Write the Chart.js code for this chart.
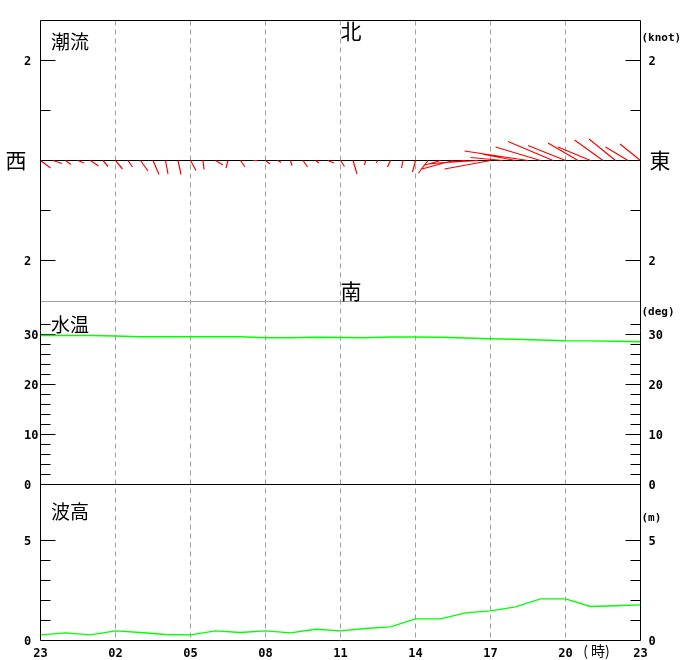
<!DOCTYPE html>
<html lang="ja">
<head>
<meta charset="utf-8">
<title>潮流・水温・波高</title>
<script src="https://cdn.jsdelivr.net/npm/chart.js@4.4.1/dist/chart.umd.min.js"></script>
<style>
  html, body { margin: 0; padding: 0; background: #fff; }
  #wrap { position: relative; width: 680px; height: 660px; }
</style>
</head>
<body>
<div id="wrap"><canvas id="sea-chart" width="680" height="660"></canvas></div>
<script>
// Hours counted from 23:00, tick every 3 hours
const hourTicks = [0, 3, 6, 9, 12, 15, 18, 21, 24];
const hourLabels = ['23', '02', '05', '08', '11', '14', '17', '20', '23'];

// Tidal current every 30 min: east (u) and north (v) components, knots
const currentU = [
    0.20, 0.18, 0.11, 0.12, 0.16, 0.10, 0.14, 0.09, 0.15, 0.12,
    0.05, 0.06, 0.11, 0.02, 0.15, -0.04, 0.09, 0.09, 0.09, 0.06,
    0.03, 0.09, 0.07, 0.12, 0.08, 0.08, -0.02, -0.04, -0.06, -0.03,
    -0.06, -0.19, -0.34, -0.62, -0.74, -0.65, -0.92, -0.65, -0.68, -1.27,
    -0.90, -0.90, -0.75, -0.60, -0.65, -0.57, -0.53, -0.45, -0.41
];
const currentV = [
    -0.15, -0.06, -0.08, -0.05, -0.11, -0.12, -0.17, -0.13, -0.21, -0.28,
    -0.27, -0.28, -0.20, -0.18, -0.09, -0.15, -0.13, 0.00, -0.07, -0.04,
    -0.10, -0.13, -0.05, -0.05, -0.12, -0.27, -0.09, -0.05, -0.13, -0.15,
    -0.23, -0.25, -0.10, -0.17, -0.07, -0.04, -0.17, 0.06, 0.13, 0.19,
    0.27, 0.38, 0.30, 0.35, 0.27, 0.41, 0.43, 0.27, 0.33
];

// Hourly water temperature (deg) and wave height (m)
const hourlyHours = [0, 1, 2, 3, 4, 5, 6, 7, 8, 9, 10, 11, 12, 13, 14, 15, 16, 17, 18, 19, 20, 21, 22, 23, 24];
const waterTemp = [
    29.8, 29.8, 29.8, 29.7, 29.55, 29.55, 29.55, 29.55, 29.55, 29.35,
    29.35, 29.45, 29.4, 29.35, 29.5, 29.5, 29.45, 29.3, 29.15, 29.05,
    28.9, 28.75, 28.72, 28.65, 28.55
];
const waveHeight = [
    0.28, 0.38, 0.28, 0.48, 0.40, 0.30, 0.28, 0.48, 0.40, 0.48,
    0.38, 0.56, 0.48, 0.60, 0.68, 1.08, 1.08, 1.38, 1.48, 1.68,
    2.08, 2.08, 1.70, 1.74, 1.78
];

// Axis ticks per panel
const curMajor = [2, -2];
const curMinor = [1, -1];
const curTickLabels = ['2', '2'];
const tempMajor = [0, 10, 20, 30];
const tempMinor = [2, 4, 6, 8, 12, 14, 16, 18, 22, 24, 26, 28, 32];
const tempTickLabels = ['0', '10', '20', '30'];
const waveMajor = [0, 5];
const waveMinor = [1, 2, 3, 4];
const waveTickLabels = ['0', '5'];

// Panels share one chart area, each keeps its own band (px from top of area)
const AREA_H = 620;
const AREA_W = 600;
const panels = {
    yCur:  { lo: -2.82, hi: 2.8, top: 0, bottom: 281 },
    yTemp: { lo: 0, hi: 36.6, top: 281, bottom: 464 },
    yWave: { lo: 0, hi: 7.8, top: 464, bottom: 620 }
};

function bandRange(p) {
    const ppu = (p.bottom - p.top) / (p.hi - p.lo);
    return { min: p.lo - (AREA_H - p.bottom) / ppu, max: p.hi + p.top / ppu };
}

// hours of x axis per knot, so sticks keep their true direction
const pxPerKnot = (panels.yCur.bottom - panels.yCur.top) / (panels.yCur.hi - panels.yCur.lo);
const KNOT_HOURS = pxPerKnot / (AREA_W / 24);

const stickData = [];
currentU.forEach((u, i) => {
    const t = i * 0.5;
    stickData.push({ x: t, y: 0 }, { x: t + u * KNOT_HOURS, y: currentV[i] }, { x: t, y: null });
});

const crisp = v => Math.floor(v) + 0.5;

const framePlugin = {
    id: 'frame',
    beforeDatasetsDraw(chart) {
        const { ctx, chartArea: a, scales } = chart;
        const x = scales.x;
        const yc = scales.yCur, yt = scales.yTemp, yw = scales.yWave;

        const line = (x1, y1, x2, y2) => {
            ctx.beginPath();
            ctx.moveTo(x1, y1);
            ctx.lineTo(x2, y2);
            ctx.stroke();
        };

        ctx.save();
        ctx.lineWidth = 1;

        // dashed hour lines
        ctx.strokeStyle = '#a0a0a0';
        ctx.setLineDash([5, 4]);
        hourTicks.slice(1, -1).forEach(h => {
            const px = crisp(x.getPixelForValue(h));
            line(px, a.top, px, a.bottom);
        });
        ctx.setLineDash([]);

        // divider under current panel
        const divY = crisp(yc.getPixelForValue(panels.yCur.lo));
        line(a.left, divY, a.right, divY);

        ctx.strokeStyle = '#000';
        const L = crisp(a.left), R = crisp(a.right);
        line(L, a.top, L, a.bottom);
        line(R, a.top, R, a.bottom);
        line(a.left, crisp(a.top), a.right, crisp(a.top));
        line(a.left, crisp(yc.getPixelForValue(0)), a.right, crisp(yc.getPixelForValue(0)));
        line(a.left, crisp(yt.getPixelForValue(0)), a.right, crisp(yt.getPixelForValue(0)));
        line(a.left, crisp(yw.getPixelForValue(0)), a.right, crisp(yw.getPixelForValue(0)));

        const ticks = (scale, values, len) => {
            values.forEach(v => {
                const py = crisp(scale.getPixelForValue(v));
                line(L, py, L + len, py);
                line(R - len, py, R, py);
            });
        };
        ticks(yc, curMajor, 15);
        ticks(yc, curMinor, 10);
        ticks(yt, tempMajor.filter(v => v > 0), 15);
        ticks(yt, tempMinor, 10);
        ticks(yw, waveMajor.filter(v => v > 0), 15);
        ticks(yw, waveMinor, 10);
        ctx.restore();
    },
    afterDatasetsDraw(chart) {
        const { ctx, chartArea: a, scales } = chart;
        const x = scales.x;
        ctx.save();
        ctx.fillStyle = '#000';

        // value labels on both sides
        ctx.font = 'bold 12px "DejaVu Sans Mono"';
        ctx.textBaseline = 'alphabetic';
        ctx.textAlign = 'left';
        const labels = (scale, values, texts) => {
            values.forEach((v, i) => {
                const py = scale.getPixelForValue(v) + 4.5;
                ctx.fillText(texts[i], 24, py);
                ctx.fillText(texts[i], a.right + 8, py);
            });
        };
        labels(scales.yCur, curMajor, curTickLabels);
        labels(scales.yTemp, tempMajor, tempTickLabels);
        labels(scales.yWave, waveMajor, waveTickLabels);

        // hour labels
        ctx.textAlign = 'center';
        hourTicks.forEach((h, i) => {
            ctx.fillText(hourLabels[i], x.getPixelForValue(h), 657);
        });

        // units
        ctx.font = 'bold 11px "DejaVu Sans Mono"';
        ctx.textAlign = 'left';
        ctx.fillText('(knot)', a.right + 1, 41);
        ctx.fillText('(deg)', a.right + 1, 315);
        ctx.fillText('(m)', a.right + 1, 521);

        // CJK texts
        ctx.textBaseline = 'middle';
        ctx.font = '14px "Noto Sans CJK JP"';
        ctx.textAlign = 'center';
        ctx.fillText('( 時)', x.getPixelForValue(21) + 31, 651);

        ctx.font = '21px "Noto Sans CJK JP"';
        ctx.fillText('北', 351, 31);
        ctx.fillText('南', 351, 291);
        ctx.fillText('西', 16, 160);
        ctx.fillText('東', 660, 160);

        ctx.font = '19px "Noto Sans CJK JP"';
        ctx.textAlign = 'left';
        ctx.fillText('潮流', 51, 42);
        ctx.fillText('水温', 51, 325);
        ctx.fillText('波高', 51, 512);
        ctx.restore();
    }
};

const ctx = document.getElementById('sea-chart').getContext('2d');

new Chart(ctx, {
    type: 'line',
    data: {
        datasets: [
            {
                label: '潮流',
                data: stickData,
                yAxisID: 'yCur',
                borderColor: '#ff0000',
                borderWidth: 1.2,
                pointRadius: 0,
                spanGaps: false,
                tension: 0
            },
            {
                label: '水温',
                data: hourlyHours.map((h, i) => ({ x: h, y: waterTemp[i] })),
                yAxisID: 'yTemp',
                borderColor: '#00ff00',
                borderWidth: 1.4,
                pointRadius: 0,
                tension: 0
            },
            {
                label: '波高',
                data: hourlyHours.map((h, i) => ({ x: h, y: waveHeight[i] })),
                yAxisID: 'yWave',
                borderColor: '#00ff00',
                borderWidth: 1.4,
                pointRadius: 0,
                tension: 0
            }
        ]
    },
    options: {
        responsive: false,
        animation: false,
        layout: {
            padding: { left: 40.5, right: 39.5, top: 20.5, bottom: 19.5 }
        },
        scales: {
            x: { type: 'linear', display: false, min: 0, max: 24, bounds: 'data' },
            yCur: Object.assign({ type: 'linear', display: false, bounds: 'data' }, bandRange(panels.yCur)),
            yTemp: Object.assign({ type: 'linear', display: false, bounds: 'data' }, bandRange(panels.yTemp)),
            yWave: Object.assign({ type: 'linear', display: false, bounds: 'data' }, bandRange(panels.yWave))
        },
        plugins: {
            legend: { display: false },
            tooltip: { enabled: false }
        }
    },
    plugins: [framePlugin]
});
</script>
</body>
</html>
